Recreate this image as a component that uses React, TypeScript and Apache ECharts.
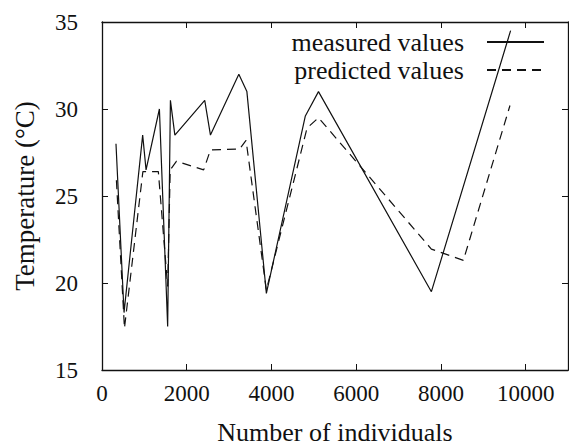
import React, { useEffect, useRef } from "react";
import * as echarts from "echarts";

const measuredX = [330, 520, 960, 1040, 1355, 1550, 1615, 1720, 2425, 2560, 3230, 3420, 3880, 4800, 5110, 7775, 9645];
const measuredY = [28.0, 18.3, 28.5, 26.5, 30.0, 17.5, 30.5, 28.5, 30.5, 28.5, 32.0, 31.0, 19.4, 29.6, 31.0, 19.5, 34.5];
const predictedX = [340, 530, 965, 1040, 1330, 1550, 1610, 1760, 2400, 2560, 3250, 3400, 3880, 4840, 5110, 7775, 8530, 9630];
const predictedY = [25.9, 17.4, 26.4, 26.4, 26.4, 19.8, 26.5, 27.0, 26.5, 27.65, 27.7, 28.2, 19.6, 28.9, 29.5, 21.95, 21.3, 30.2];

const seriesNames = ["measured values", "predicted values"];
const xTitle = "Number of individuals";
const yTitle = "Temperature (°C)";
const xRange = [0, 11000, 2000];
const yRange = [15, 35, 5];

export default function App() {
  const ref = useRef<HTMLDivElement>(null);
  useEffect(() => {
    const chart = echarts.init(ref.current!, null, { renderer: "svg" });
    const font = "'Liberation Serif', 'Times New Roman', serif";
    const ink = "#111";
    const axisLine = { show: true, onZero: false, lineStyle: { color: ink, width: 1.3 } };
    const axisTick = { show: true, inside: true, length: 6, lineStyle: { color: ink, width: 1 } };
    const pair = (xs: number[], ys: number[]) => xs.map((x, i) => [x, ys[i]]);
    const legendBase = {
      orient: "vertical",
      align: "right",
      right: 24,
      padding: 0,
      itemWidth: 57,
      itemHeight: 20,
      itemStyle: { color: "rgba(0,0,0,0)", borderWidth: 0, opacity: 0 },
      textStyle: { fontFamily: font, fontSize: 26, color: ink, padding: [0, 18, 0, 0] },
      selectedMode: false,
    };
    chart.setOption({
      animation: false,
      backgroundColor: "#fff",
      grid: { left: 102, top: 22, right: 1, bottom: 76, containLabel: false, outerBoundsMode: "none" },
      legend: [
        { ...legendBase, data: [seriesNames[0]], top: 29 },
        { ...legendBase, data: [seriesNames[1]], top: 57 },
      ],
      xAxis: [
        {
          type: "value",
          position: "bottom",
          min: xRange[0],
          max: xRange[1],
          interval: xRange[2],
          axisLine,
          axisTick,
          splitLine: { show: false },
          axisLabel: {
            fontFamily: font,
            fontSize: 23,
            color: ink,
            margin: 12,
            showMaxLabel: false,
            formatter: (v: number) => String(v),
          },
          name: xTitle,
          nameLocation: "middle",
          nameGap: 49,
          nameTextStyle: { fontFamily: font, fontSize: 26, color: ink },
        },
        {
          type: "value",
          position: "top",
          min: xRange[0],
          max: xRange[1],
          interval: xRange[2],
          axisLine,
          axisTick,
          splitLine: { show: false },
          axisLabel: { show: false },
        },
      ],
      yAxis: [
        {
          type: "value",
          position: "left",
          min: yRange[0],
          max: yRange[1],
          interval: yRange[2],
          axisLine,
          axisTick,
          splitLine: { show: false },
          axisLabel: { fontFamily: font, fontSize: 23, color: ink, margin: 24, formatter: (v: number) => String(v) },
          name: yTitle,
          nameLocation: "middle",
          nameGap: 64,
          nameTextStyle: { fontFamily: font, fontSize: 27, color: ink },
        },
        {
          type: "value",
          position: "right",
          min: yRange[0],
          max: yRange[1],
          interval: yRange[2],
          axisLine,
          axisTick,
          splitLine: { show: false },
          axisLabel: { show: false },
        },
      ],
      series: [
        {
          name: seriesNames[0],
          type: "line",
          data: pair(measuredX, measuredY),
          symbol: "none",
          lineStyle: { color: ink, width: 1.2, type: "solid" },
          itemStyle: { color: ink },
        },
        {
          name: seriesNames[1],
          type: "line",
          data: pair(predictedX, predictedY),
          symbol: "none",
          lineStyle: { color: ink, width: 1.2, type: [9, 6] },
          itemStyle: { color: ink },
        },
      ],
    });
    return () => chart.dispose();
  }, []);
  return (
    <div
      ref={ref}
      style={{ position: "fixed", left: 0, top: 0, width: 569, height: 446, background: "#fff" }}
    />
  );
}
